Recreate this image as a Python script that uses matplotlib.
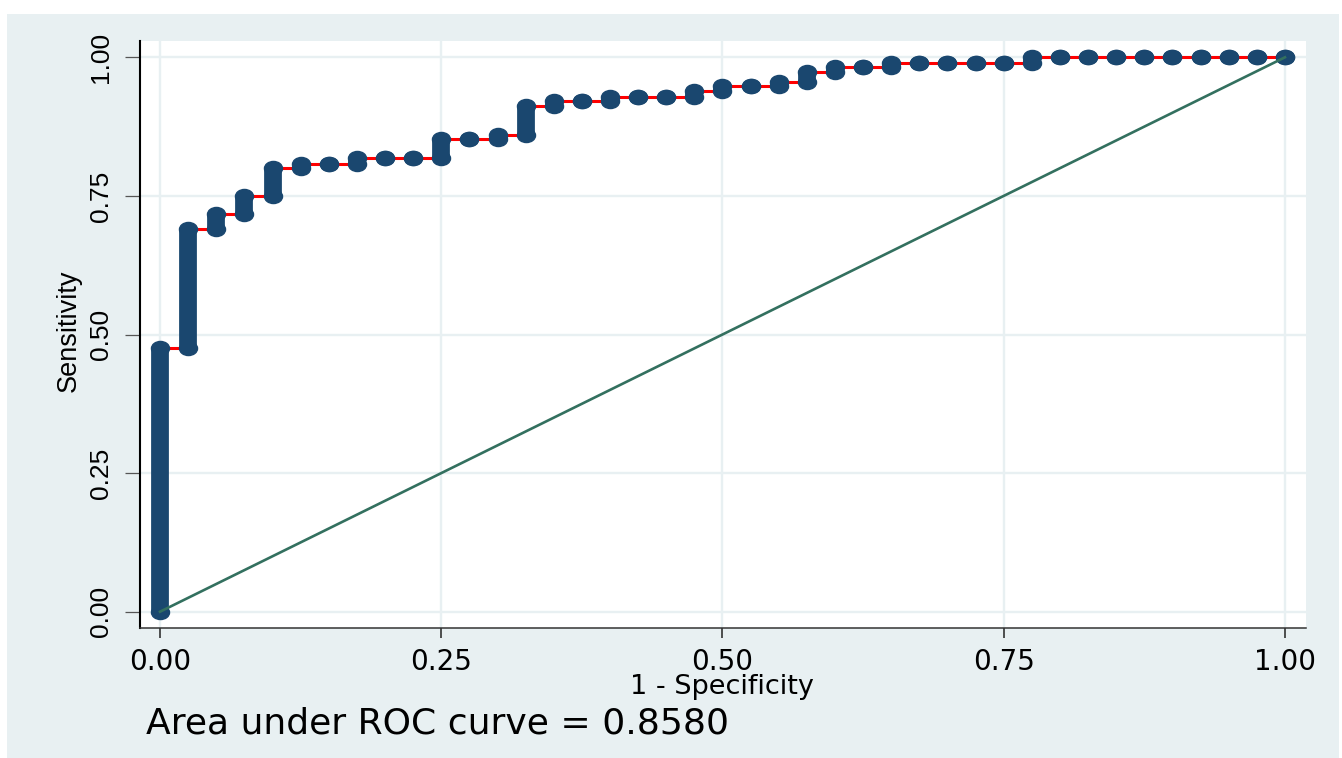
import matplotlib

matplotlib.use("Agg")
import matplotlib.pyplot as plt
import numpy as np
from matplotlib.patches import Rectangle
from matplotlib.path import Path
from matplotlib.transforms import Affine2D

# ROC points: 1 - specificity and the sensitivity reached at each cutoff column
fpr = [0.000, 0.025, 0.050, 0.075, 0.100, 0.125, 0.150, 0.175, 0.200, 0.225,
       0.250, 0.275, 0.300, 0.325, 0.350, 0.375, 0.400, 0.425, 0.450, 0.475,
       0.500, 0.525, 0.550, 0.575, 0.600, 0.625, 0.650, 0.675, 0.700, 0.725,
       0.750, 0.775, 0.800, 0.825, 0.850, 0.875, 0.900, 0.925, 0.950, 0.975,
       1.000]
sensitivity = [0.475, 0.690, 0.717, 0.750, 0.800, 0.808, 0.808, 0.818, 0.818, 0.818,
               0.853, 0.853, 0.860, 0.913, 0.922, 0.922, 0.929, 0.929, 0.929, 0.940,
               0.948, 0.948, 0.956, 0.974, 0.982, 0.982, 0.990, 0.990, 0.990, 0.990,
               0.990, 1.000, 1.000, 1.000, 1.000, 1.000, 1.000, 1.000, 1.000, 1.000,
               1.000]
ref_x = [0.0, 1.0]
ref_y = [0.0, 1.0]
ticks = [0.00, 0.25, 0.50, 0.75, 1.00]
tick_labels = ["0.00", "0.25", "0.50", "0.75", "1.00"]
auc_text = "Area under ROC curve = 0.8580"

NAVY = "#1A476F"
BLUISH = "#E8F0F2"
W, H = 1342, 758

plt.rcParams["font.family"] = ["DejaVu Sans"]

fig = plt.figure(figsize=(W / 100, H / 100), dpi=100, facecolor="white")


def fx(px):
    return px / W


def fy(py):
    return 1 - py / H


# light bluish graph region behind the plot
fig.patches.append(Rectangle((fx(7), 0), fx(1339) - fx(7), fy(14), transform=fig.transFigure,
                             facecolor=BLUISH, edgecolor="none", zorder=-5))

ax = fig.add_axes([fx(140), fy(628), fx(1306) - fx(140), fy(41) - fy(628)])
ax.set_facecolor("white")
ax.set_xlim(-0.0178, 1.0187)
ax.set_ylim(-0.0294, 1.0294)

x = np.array(fpr)
top = np.array(sensitivity)
bottom = np.concatenate([[0.0], top[:-1]])

# connecting step line through all cutoffs
step_x = np.repeat(x, 2)
step_y = np.column_stack([bottom, top]).ravel()
ax.plot(step_x, step_y, color="red", lw=2.2, zorder=2)

# stacked markers at each cutoff column
ellipse = Path.unit_circle().transformed(Affine2D().scale(1.0, 0.78))
ax.vlines(x, bottom, top, colors=NAVY, lw=12.8, capstyle="butt", zorder=3)
ax.plot(np.concatenate([x, x]), np.concatenate([bottom, top]), ls="none",
        marker=ellipse, ms=13, color=NAVY, mec=NAVY, zorder=4)

# reference line
ax.plot(ref_x, ref_y, color="#33705F", lw=1.9, zorder=5)

ax.set_xticks(ticks)
ax.set_yticks(ticks)
ax.set_xticklabels(tick_labels, fontsize=20)
ax.set_yticklabels(tick_labels, fontsize=19, family="Liberation Sans", rotation=90, va="center")
ax.grid(True, color=BLUISH, lw=1.7, zorder=0)
ax.set_axisbelow(True)

for side in ("top", "right"):
    ax.spines[side].set_visible(False)
ax.spines["left"].set_linewidth(1.5)
ax.spines["left"].set_color("black")
ax.spines["bottom"].set_linewidth(1.1)
ax.spines["bottom"].set_color("#333333")
ax.tick_params(axis="x", direction="out", length=7.2, width=1.1, color="#222222", pad=7)
ax.tick_params(axis="y", direction="out", length=10.8, width=0.9, color="#555555", pad=8.6)

fig.text(fx(69), fy(331), "Sensitivity", rotation=90, ha="center", va="center",
         fontsize=19.5, family="Liberation Sans")
fig.text(fx(722), fy(694), "1 - Specificity", ha="center", va="baseline", fontsize=19.5)
fig.text(fx(146), fy(733), auc_text, ha="left", va="baseline", fontsize=26)

fig.savefig("out.png", dpi=100, facecolor="white")
